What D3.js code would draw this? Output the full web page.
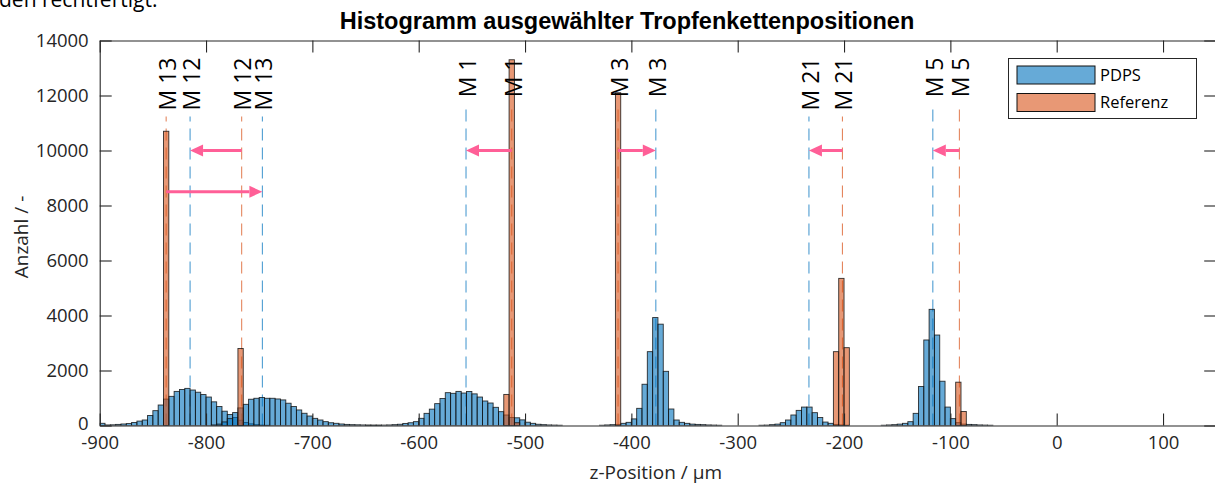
<!DOCTYPE html>
<html><head><meta charset="utf-8">
<script src="https://cdn.jsdelivr.net/npm/d3@7"></script>
<style>
html,body{margin:0;padding:0;background:#fff;}
svg{display:block;}
</style></head>
<body>
<svg id="chart" width="1215" height="484"></svg>
<script>
// ---------- data ----------
const binWidth = 5;
const xTicks = [-900,-800,-700,-600,-500,-400,-300,-200,-100,0,100];
const yTicks = [0,2000,4000,6000,8000,10000,12000,14000];

const markerNames = ["M 13","M 12","M 1","M 3","M 21","M 5"];
const pdpsPositions = [-747, -815, -555.5, -377, -233, -116.5];
const refPositions  = [-837.5, -766.5, -512.5, -412.5, -201.5, -91.5];
const arrowLevels   = [8500, 10000, 10000, 10000, 10000, 10000];

// PDPS histograms (bin start, counts per 5 µm bin)
const pdpsM12Start = -900;
const pdpsM12 = [80,20,25,40,55,70,110,160,200,365,540,745,960,1060,1240,1310,1350,1290,1210,1125,1035,860,690,520,400,290,190,110,60,30,15,8];
const pdpsM13Start = -795;
const pdpsM13 = [20,50,130,250,470,640,770,955,990,1020,990,990,965,930,810,690,565,445,345,260,200,140,100,80,55,40,30,25,20,15,10,8];
const pdpsM1Start = -650;
const pdpsM1 = [8,10,12,15,20,30,45,75,100,140,261,442,595,795,980,1194,1170,1240,1180,1236,1150,1035,891,818,661,503,382,290,280,205,120,79,45,30,20,15,10];
const pdpsM3Start = -430;
const pdpsM3 = [10,20,30,40,79,115,240,624,1500,2685,3925,3685,1970,600,200,115,79,50,40,30,20,15,10];
const pdpsM21Start = -280;
const pdpsM21 = [10,15,30,50,103,200,382,550,670,670,467,290,125,79,40,20,10];
const pdpsM5Start = -165;
const pdpsM5 = [10,20,30,50,79,139,442,1420,3110,4224,3290,1610,670,250,103,50,40,30,20,15,10];

// Referenz histograms
const refM13Start = -840; const refM13 = [10700];
const refM12Start = -770; const refM12 = [2800];
const refM1Start  = -520; const refM1  = [1130, 13300, 100];
const refM3Start  = -415; const refM3  = [12100];
const refM21Start = -210; const refM21 = [2685, 5350, 2830];
const refM5Start  = -95;  const refM5  = [1575, 510];

const seriesNames = ["PDPS","Referenz"];
const titleText = "Histogramm ausgewählter Tropfenkettenpositionen";
const xLabel = "z-Position / µm";
const yLabel = "Anzahl / -";
const pageText = "den rechtfertigt.";

// ---------- build ----------
function toBins(start, counts){ return counts.map((c,i)=>({x0:start+i*binWidth, x1:start+(i+1)*binWidth, n:c})); }
const pdpsHists = [
  toBins(pdpsM12Start,pdpsM12), toBins(pdpsM13Start,pdpsM13), toBins(pdpsM1Start,pdpsM1),
  toBins(pdpsM3Start,pdpsM3), toBins(pdpsM21Start,pdpsM21), toBins(pdpsM5Start,pdpsM5)];
const refHists = [
  toBins(refM13Start,refM13), toBins(refM12Start,refM12), toBins(refM1Start,refM1),
  toBins(refM3Start,refM3), toBins(refM21Start,refM21), toBins(refM5Start,refM5)];

const blue = "rgb(0,114,189)", orange = "rgb(217,83,25)", pink = "#ff5f97";
const axisColor = "#262626";
const tickFont = "'Open Sans', 'Noto Sans', sans-serif";

const svg = d3.select("#chart");
const L = 99.7, R = 1216.2, T = 40.5, B = 425.5;
const x = d3.scaleLinear().domain([-900,150]).range([L,R]);
const y = d3.scaleLinear().domain([0,14000]).range([B,T]);

// page text fragment at top (cut off by the window edge, as in the reference)
svg.append("text").attr("x",-1).attr("y",7).attr("font-family","'Open Sans', sans-serif")
  .attr("font-size",21).attr("fill","#000").text(pageText);

const defs = svg.append("defs");
defs.append("clipPath").attr("id","plotclip").append("rect").attr("x",L).attr("y",T).attr("width",R-L).attr("height",B-T);

const plot = svg.append("g").attr("clip-path","url(#plotclip)");

// marker lines (xline with labels)
const labelTopY = 13380;
const lineG = plot.append("g");
const labelG = svg.append("g");
function addMarker(pos, name, color){
  const t = labelG.append("text")
    .attr("transform",`translate(${x(pos)+1.5},${y(labelTopY)}) rotate(-90)`)
    .attr("text-anchor","end").attr("dy","0.36em")
    .attr("font-family",tickFont).attr("font-size",23).attr("fill","#000").text(name);
  const len = t.node().getComputedTextLength();
  const topPx = y(labelTopY) + len + 6;
  lineG.append("line").attr("x1",x(pos)).attr("x2",x(pos)).attr("y1",y(0)).attr("y2",topPx)
    .attr("stroke",color).attr("stroke-opacity",0.7).attr("stroke-width",1.1)
    .attr("stroke-dasharray","12,7");
}
markerNames.forEach((m,i)=>{ addMarker(pdpsPositions[i], m, blue); addMarker(refPositions[i], m, orange); });

// histogram bars
function drawHist(bins, color){
  plot.append("g").selectAll("rect").data(bins).join("rect")
    .attr("x",d=>x(d.x0)).attr("width",d=>x(d.x1)-x(d.x0))
    .attr("y",d=>y(d.n)).attr("height",d=>y(0)-y(d.n))
    .attr("fill",color).attr("fill-opacity",0.6)
    .attr("stroke","#111").attr("stroke-width",0.9).attr("stroke-opacity",0.85);
}
pdpsHists.forEach(h=>drawHist(h, blue));
refHists.forEach(h=>drawHist(h, orange));

// arrows from reference to PDPS position
const arrowG = svg.append("g");
markerNames.forEach((m,i)=>{
  const x1 = x(refPositions[i]), x2 = x(pdpsPositions[i]), yy = y(arrowLevels[i]);
  const dir = Math.sign(x2-x1), head = 13, hw = 6;
  arrowG.append("line").attr("x1",x1).attr("x2",x2-dir*head).attr("y1",yy).attr("y2",yy)
    .attr("stroke",pink).attr("stroke-width",3);
  arrowG.append("path").attr("d",`M${x2},${yy}L${x2-dir*head},${yy-hw}L${x2-dir*head},${yy+hw}Z`).attr("fill",pink);
});

// axes box
const axG = svg.append("g").attr("font-family",tickFont);
const xAxis = d3.axisBottom(x).tickValues(xTicks).tickSizeInner(-12).tickSizeOuter(0).tickPadding(10).tickFormat(d3.format("d"));
const xg = axG.append("g").attr("transform",`translate(0,${B})`).call(xAxis);
const xTop = d3.axisTop(x).tickValues(xTicks).tickSizeInner(-12).tickSizeOuter(0).tickFormat("");
const xgt = axG.append("g").attr("transform",`translate(0,${T})`).call(xTop);
const yAxis = d3.axisLeft(y).tickValues(yTicks).tickSizeInner(-12).tickSizeOuter(0).tickPadding(11).tickFormat(d3.format("d"));
const yg = axG.append("g").attr("transform",`translate(${L},0)`).call(yAxis);
const yRight = d3.axisRight(y).tickValues(yTicks).tickSizeInner(-12).tickSizeOuter(0).tickFormat("");
const ygr = axG.append("g").attr("transform",`translate(${R},0)`).call(yRight);
[xg,xgt,yg,ygr].forEach(g=>{
  g.select(".domain").attr("stroke",axisColor).attr("stroke-width",1.1);
  g.selectAll(".tick line").attr("stroke",axisColor).attr("stroke-width",1.1);
  g.selectAll(".tick text").attr("fill","#262626").attr("font-size",18.5).attr("font-family",tickFont);
});
xg.selectAll(".tick text").text(d=>d<0?"-"+Math.abs(d):d);
yg.selectAll(".tick text").filter(d=>d===0).attr("dy","0.2em");

// labels
svg.append("text").attr("x",x(-377)).attr("y",479).attr("text-anchor","middle")
  .attr("font-family",tickFont).attr("font-size",19).attr("fill","#262626").text(xLabel);
svg.append("text").attr("transform",`translate(28,${(T+B)/2 + 4}) rotate(-90)`).attr("text-anchor","middle")
  .attr("font-family",tickFont).attr("font-size",19).attr("fill","#262626").text(yLabel);
svg.append("text").attr("x",627).attr("y",29).attr("text-anchor","middle")
  .attr("font-family","'Liberation Sans', Arial, sans-serif").attr("font-weight","bold")
  .attr("font-size",23.5).attr("fill","#000").text(titleText);

// legend
const lg = svg.append("g");
lg.append("rect").attr("x",1008.5).attr("y",58.5).attr("width",188).attr("height",60)
  .attr("fill","#fff").attr("stroke",axisColor).attr("stroke-width",1);
[blue, orange].forEach((c,i)=>{
  const yy = 66 + i*27.5;
  lg.append("rect").attr("x",1017).attr("y",yy).attr("width",78).attr("height",18)
    .attr("fill",c).attr("fill-opacity",0.6).attr("stroke","#111").attr("stroke-width",1);
  lg.append("text").attr("x",1100).attr("y",yy+9).attr("dy","0.35em")
    .attr("font-family",tickFont).attr("font-size",16.5).attr("fill","#000").text(seriesNames[i]);
});
</script>
</body></html>
